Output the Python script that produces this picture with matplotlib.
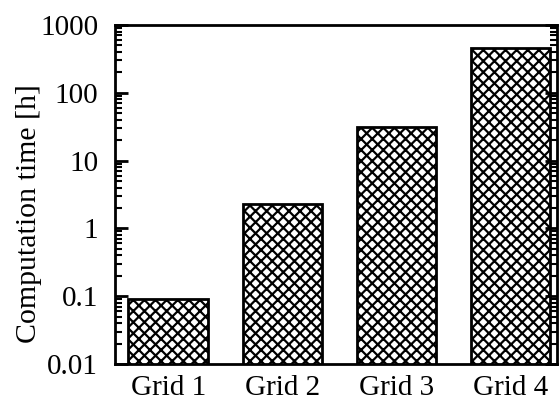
import numpy as np
import matplotlib.pyplot as plt
from matplotlib.ticker import LogLocator, NullFormatter

grids = ['Grid 1', 'Grid 2', 'Grid 3', 'Grid 4']
comp_time = [0.09, 2.3, 31.5, 460]   # hours
y_ticks = [0.01, 0.1, 1, 10, 100, 1000]
y_labels = ['0.01', '0.1', '1', '10', '100', '1000']

plt.rcParams['font.family'] = ['Liberation Serif', 'DejaVu Serif']
plt.rcParams['hatch.linewidth'] = 1.6

fig = plt.figure(figsize=(5.6, 4.03), dpi=100)
ax = fig.add_axes([0.205, 0.097, 0.79, 0.841])

x = np.arange(len(grids))
ax.bar(x, comp_time, width=0.7, color='white', edgecolor='black',
       linewidth=2, hatch='xxx')

ax.set_yscale('log')
ax.set_ylim(0.01, 1000)
ax.set_xlim(-0.47, 3.41)
ax.set_yticks(y_ticks)
ax.set_yticklabels(y_labels)
ax.yaxis.set_minor_locator(LogLocator(base=10, subs=np.arange(2, 10)))
ax.yaxis.set_minor_formatter(NullFormatter())
ax.set_xticks(x)
ax.set_xticklabels(grids)

ax.tick_params(axis='y', which='major', direction='in', length=9, width=2,
               right=True, labelsize=21, pad=12)
ax.tick_params(axis='y', which='minor', direction='in', length=5, width=1.5,
               right=True)
ax.tick_params(axis='x', length=0, labelsize=21, pad=8)

for s in ax.spines.values():
    s.set_linewidth(2)

ax.set_ylabel('Computation time [h]', fontsize=21.5)
ax.yaxis.set_label_coords(-0.165, 0.445)

fig.savefig('out.png', dpi=100)
